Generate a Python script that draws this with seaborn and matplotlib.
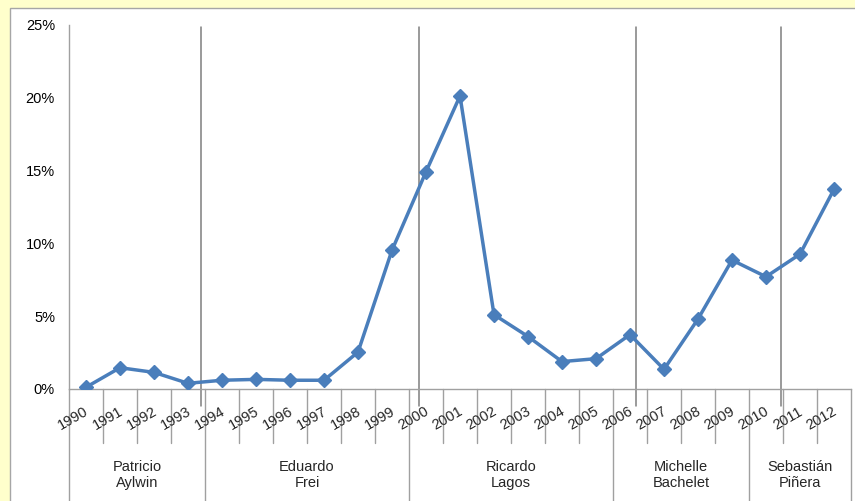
import matplotlib
matplotlib.use("Agg")
import matplotlib.pyplot as plt
import matplotlib.transforms as mtransforms
from matplotlib.patches import Rectangle
import numpy as np
import pandas as pd
import seaborn as sns

# Annual values (%) by year
years = ["1990", "1991", "1992", "1993", "1994", "1995", "1996", "1997",
         "1998", "1999", "2000", "2001", "2002", "2003", "2004", "2005",
         "2006", "2007", "2008", "2009", "2010", "2011", "2012"]
values = [0.12, 1.46, 1.14, 0.39, 0.60, 0.66, 0.60, 0.60,
          2.53, 9.52, 14.90, 20.10, 5.10, 3.60, 1.88, 2.08,
          3.73, 1.35, 4.80, 8.84, 7.70, 9.25, 13.70]

# Presidential terms: name and number of years covered
presidents = ["Patricio\nAylwin", "Eduardo\nFrei", "Ricardo\nLagos",
              "Michelle\nBachelet", "Sebastián\nPiñera"]
term_years = [4, 6, 6, 4, 3]

# Change-of-government markers, in category units (1990 = 0)
transitions = [3.37, 9.79, 16.18, 20.44]

y_ticks = [0, 5, 10, 15, 20, 25]
y_tick_labels = ["0%", "5%", "10%", "15%", "20%", "25%"]

sns.set_style("white")
plt.rcParams["font.family"] = ["Liberation Sans", "DejaVu Sans"]

W, H = 855, 501
fig = plt.figure(figsize=(W / 100, H / 100), dpi=100, facecolor="#FFFFCC")

# White chart panel with a thin grey border
fig.patches.append(Rectangle((9.5 / W, -0.05), 1.2, (H - 7.5) / H + 0.05,
                             transform=fig.transFigure, facecolor="white",
                             edgecolor="#A6A6A6", lw=1.0, zorder=-10))

ax = fig.add_axes([69 / W, (H - 389) / H, 782 / W, 364.5 / H])
ax.set_zorder(1)
ax.patch.set_alpha(0)

df = pd.DataFrame({"pos": np.arange(len(years)), "value": values})
line_color = "#4A7EBB"
sns.lineplot(data=df, x="pos", y="value", ax=ax, color=line_color, lw=2.5,
             marker="D", markersize=7.2, markeredgecolor=line_color,
             markeredgewidth=1, zorder=5)

ax.set_xlim(-0.5, len(years) - 0.5)
ax.set_ylim(0, 25)
ax.set_xlabel("")
ax.set_ylabel("")

axis_gray = "#A0A0A0"
for side in ("top", "right"):
    ax.spines[side].set_visible(False)
for side in ("left", "bottom"):
    ax.spines[side].set_color(axis_gray)
    ax.spines[side].set_linewidth(1.0)

ax.set_xticks([])
ax.set_yticks(y_ticks, y_tick_labels)
ax.tick_params(axis="y", direction="out", length=3.6, width=1.0,
               color=axis_gray, labelsize=10.5, pad=6.5, labelcolor="black")

trans = mtransforms.blended_transform_factory(ax.transData, ax.transAxes)

# Category boundary ticks and term separators below the axis
group_edges = np.concatenate([[0], np.cumsum(term_years)]) - 0.5
for k in range(len(years) + 1):
    b = k - 0.5
    if np.any(np.isclose(group_edges, b)):
        ax.plot([b, b], [0, -0.5], transform=trans, color=axis_gray,
                lw=1.0, clip_on=False)
    else:
        ax.plot([b, b], [0, -0.148], transform=trans, color=axis_gray,
                lw=1.0, clip_on=False)

# Year labels
for i, yr in enumerate(years):
    ax.annotate(yr, xy=(i, 0), xycoords=trans, xytext=(-9, -21),
                textcoords="offset points", ha="center", va="center",
                rotation=30, rotation_mode="anchor", fontsize=10.5)

# President labels centred under each term
start = 0
for name, n in zip(presidents, term_years):
    cx = start + n / 2 - 0.5
    ax.text(cx, -0.236, name, transform=trans, ha="center", va="center",
            fontsize=10.5, linespacing=1.15)
    start += n

# Vertical lines at each change of government
for t in transitions:
    ax.plot([t, t], [-0.047, 0.993], transform=trans, color="#7F7F7F",
            lw=1.1, clip_on=False, zorder=2)

fig.savefig("out.png", dpi=100, facecolor=fig.get_facecolor())
